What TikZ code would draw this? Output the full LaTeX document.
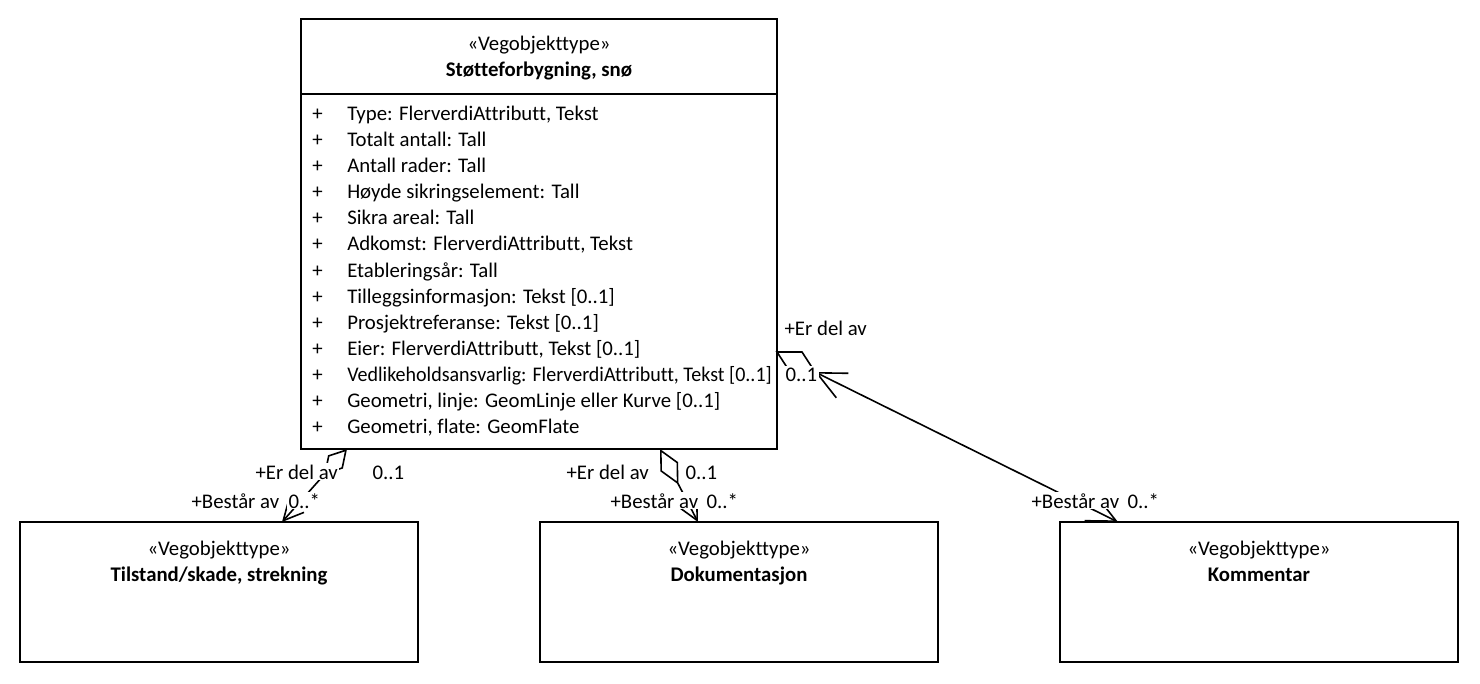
\documentclass[tikz,border=0pt]{standalone}
\usepackage{fontspec}
\setmainfont{Carlito}[Ligatures=NoCommon]
\usetikzlibrary{arrows.meta}
\begin{document}
\begin{tikzpicture}[x=0.75pt,y=-0.75pt,
  umlbox/.style={draw=black,line width=1.5pt,fill=white,inner sep=0pt,outer sep=0pt,anchor=north west},
  classbox/.style={umlbox,minimum width=357pt,minimum height=322.5pt},
  partbox/.style={umlbox,minimum width=298.5pt,minimum height=105pt},
  txt/.style={inner sep=0pt,font=\fontsize{15.6pt}{18pt}\selectfont},
  stereo/.style={txt,anchor=base},
  cname/.style={txt,anchor=base,font=\fontsize{15.6pt}{18pt}\selectfont\bfseries},
  attr/.style={txt,anchor=base west},
  role/.style={txt,anchor=base west,fill=white,inner sep=1pt},
  assoc/.style={draw=black,line width=1.2pt}
]
\useasboundingbox (0,0) rectangle (1480,684);

% classes
\node[classbox] (main) at (301,19) {};
\draw[line width=1.5pt] (main.west |- 0,94) coordinate (sepL) -- (main.east |- 0,94) coordinate (sepR);
\node[stereo] (mainst) at (539,51) {«Vegobjekttype»};
\node[cname] (mainname) at (539,77) {Støtteforbygning, snø};

\foreach \a [count=\i from 0] in {
  {Type: FlerverdiAttributt, Tekst},
  {Totalt antall: Tall},
  {Antall rader: Tall},
  {Høyde sikringselement: Tall},
  {Sikra areal: Tall},
  {Adkomst: FlerverdiAttributt, Tekst},
  {Etableringsår: Tall},
  {Tilleggsinformasjon: Tekst [0..1]},
  {Prosjektreferanse: Tekst [0..1]},
  {Eier: FlerverdiAttributt, Tekst [0..1]},
  {\scalebox{0.962}[1]{Vedlikeholdsansvarlig: FlerverdiAttributt, Tekst [0..1]}},
  {Geometri, linje: GeomLinje eller Kurve [0..1]},
  {Geometri, flate: GeomFlate}} {
  \node[attr] (vis\i) at (312,121+26*\i) {+};
  \node[attr] (attr\i) at (347,121+26*\i) {\a};
}

\node[partbox] (tilstand) at (20,522) {};
\node[stereo] (tilstandst) at (219,555) {«Vegobjekttype»};
\node[cname] (tilstandname) at (219,581) {Tilstand/skade, strekning};

\node[partbox] (dok) at (540,522) {};
\node[stereo] (dokst) at (739,555) {«Vegobjekttype»};
\node[cname] (dokname) at (739,581) {Dokumentasjon};

\node[partbox] (komm) at (1060,522) {};
\node[stereo] (kommst) at (1259,555) {«Vegobjekttype»};
\node[cname] (kommname) at (1259,581) {Kommentar};

% connector end points
\coordinate (lTop) at (347,449);
\coordinate (lBot) at (282,522);
\coordinate (mTop) at (660,449);
\coordinate (mBot) at (698,522);
\coordinate (rA) at (777,352);
\coordinate (rB) at (802,352);
\coordinate (rC) at (815,372);
\coordinate (rD) at (790,372);
\coordinate (rBot) at (1118,522);

% associations
\draw[assoc,{Diamond[open,length=26pt,width=15pt,line width=1.2pt]}-{Straight Barb[length=15pt,width=15pt,line width=1.2pt]}] (lTop) -- (lBot);
\draw[assoc,{Diamond[open,length=30pt,width=15pt,line width=1.2pt]}-{Straight Barb[length=15pt,width=15pt,line width=1.2pt]}] (mTop) -- (mBot);
\draw[assoc,line join=miter] (rA) -- (rB) -- (rC) -- (rD) -- cycle;
\draw[assoc,{Straight Barb[length=21.5pt,width=20.5pt,line width=1.2pt]}-{Straight Barb[length=21.5pt,width=20.5pt,line width=1.2pt]}] (rC) -- (rBot);

% role names and multiplicities
\node[role] (lrole1) at (254,479) {+Er del av};
\node[role] (lmult1) at (371,479) {0..1};
\node[role] (lrole2) at (190,508) {+Består av};
\node[role] (lmult2) at (287,508) {0..*};

\node[role] (mrole1) at (565,479) {+Er del av};
\node[role] (mmult1) at (684,479) {0..1};
\node[role] (mrole2) at (609,508) {+Består av};
\node[role] (mmult2) at (705,508) {0..*};

\node[role] (rrole1) at (783,335) {+Er del av};
\node[role] (rmult1) at (784,381) {0..1};
\node[role] (rrole2) at (1030,508) {+Består av};
\node[role] (rmult2) at (1126,508) {0..*};
\end{tikzpicture}
\end{document}
